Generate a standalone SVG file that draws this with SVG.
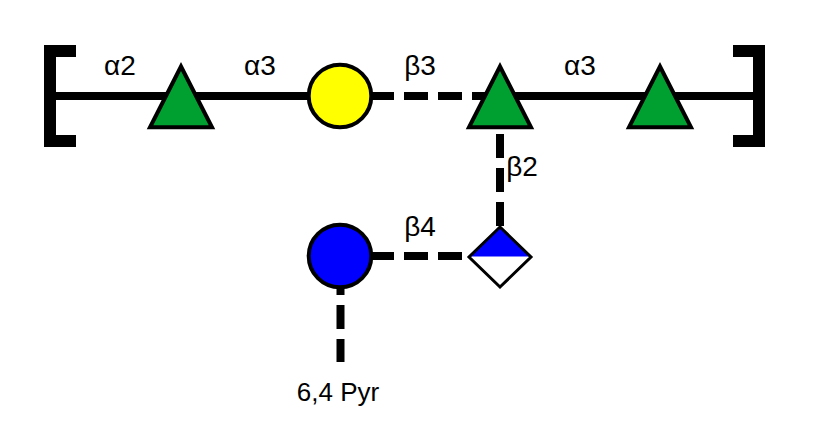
<svg xmlns="http://www.w3.org/2000/svg" width="821" height="428" viewBox="0 0 821 428">
  <style>
    .bond { stroke: #000; stroke-width: 8; fill: none; }
    .dash { stroke-dasharray: 24 10; }
    .shape { stroke: #000; stroke-width: 4; stroke-linejoin: miter; }
    .gal { fill: #ffff00; }
    .glc { fill: #0000ff; }
    .fuc { fill: #00a030; }
    .bracket { fill: #000; }
    text { font-family: "Liberation Sans", Arial, sans-serif; font-size: 26px; fill: #000; text-anchor: middle; }
    .linkage { font-size: 28px; }
  </style>
  <defs>
    <polygon id="fucose" class="shape fuc" points="0,-29.500 -31,31.300 31,31.300"/>
  </defs>
  <rect width="821" height="428" fill="#fff"/>

  <g id="connectors">
    <line class="bond" x1="56" y1="96" x2="340" y2="96"/>
    <line class="bond dash" x1="370" y1="96" x2="500" y2="96"/>
    <line class="bond" x1="500" y1="96" x2="753" y2="96"/>
    <line class="bond dash" x1="500" y1="134" x2="500" y2="226"/>
    <line class="bond dash" x1="370" y1="256" x2="470" y2="256"/>
    <line class="bond dash" x1="340.500" y1="271" x2="340.500" y2="362"/>
  </g>

  <g id="bracket-left">
    <path class="bracket" d="M44,45H76V57H56V135H76V147H44Z"/>
  </g>
  <g id="bracket-right">
    <path class="bracket" d="M765,45H733V57H753V135H733V147H765Z"/>
  </g>

  <g id="fuc-1"><use href="#fucose" x="181" y="96"/></g>
  <g id="gal"><circle class="shape gal" cx="340" cy="96" r="31.300"/></g>
  <g id="fuc-2"><use href="#fucose" x="500" y="96"/></g>
  <g id="fuc-3"><use href="#fucose" x="660" y="96"/></g>
  <g id="glc"><circle class="shape glc" cx="340" cy="256" r="31.300"/></g>
  <g id="idoa">
    <polygon points="469,256.500 500,227 531,256.500" fill="#0000ff"/>
    <polygon points="500,227 531,257 500,287 469,257" fill="none" stroke="#000" stroke-width="3"/>
  </g>

  <g id="labels">
    <text class="linkage" x="120" y="75">α2</text>
    <text class="linkage" x="260" y="75">α3</text>
    <text class="linkage" x="420" y="75">β3</text>
    <text class="linkage" x="580" y="75">α3</text>
    <text class="linkage" x="522" y="176">β2</text>
    <text class="linkage" x="420" y="236">β4</text>
    <text x="338" y="401">6,4 Pyr</text>
  </g>
</svg>
